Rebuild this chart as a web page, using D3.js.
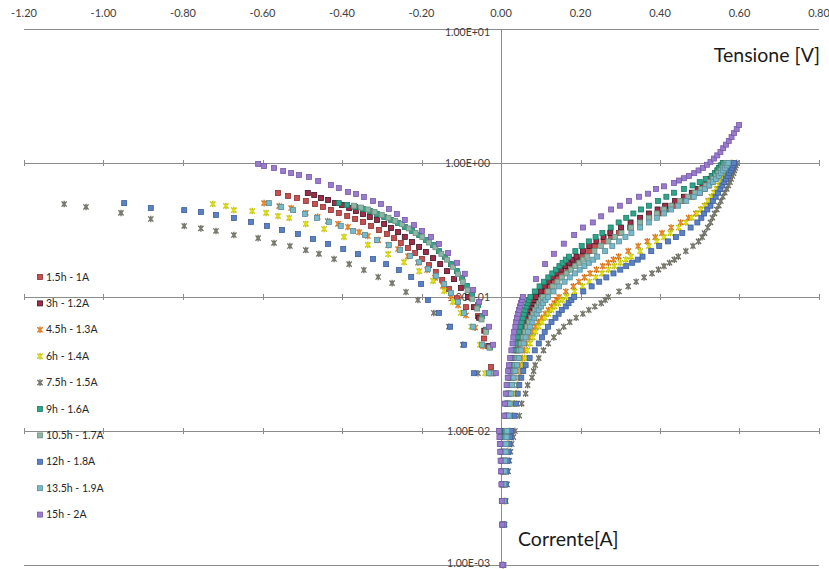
<!DOCTYPE html>
<html>
<head>
<meta charset="utf-8">
<script src="https://cdn.jsdelivr.net/npm/d3@7"></script>
<style>
  body { margin: 0; background: #fff; }
  text { font-family: Lato, "Liberation Sans", sans-serif; }
</style>
</head>
<body>
<svg id="chart" width="829" height="569"></svg>
<script>
// Axis ticks
const xTicks = [-1.2, -1.0, -0.8, -0.6, -0.4, -0.2, 0.0, 0.2, 0.4, 0.6, 0.8];
const yTicks = [10, 1, 0.1, 0.01, 0.001];
const yTickLabels = ["1.00E+01", "1.00E+00", "1.00E-01", "1.00E-02", "1.00E-03"];

// Series names (legend order)
const seriesNames = ["1.5h - 1A", "3h - 1.2A", "4.5h - 1.3A", "6h - 1.4A", "7.5h - 1.5A",
                     "9h - 1.6A", "10.5h - 1.7A", "12h - 1.8A", "13.5h - 1.9A", "15h - 2A"];

// Current steps of the positive branch (shared by the series)
const currentLow = [
  0.001, 0.002, 0.003, 0.004, 0.005, 0.006, 0.007, 0.008, 0.009, 0.010,
  0.013, 0.016, 0.019, 0.022, 0.025, 0.028,
  0.031, 0.035, 0.04, 0.045, 0.05, 0.055, 0.06, 0.065, 0.07, 0.075, 0.08, 0.085, 0.09, 0.095, 0.10
];
const currentHigh = [
  0.11, 0.12, 0.13, 0.14, 0.15, 0.16, 0.17, 0.18, 0.19, 0.20, 0.22, 0.24, 0.26, 0.28, 0.30,
  0.33, 0.36, 0.39, 0.42, 0.45, 0.48, 0.52, 0.56, 0.60, 0.64, 0.68, 0.72, 0.76, 0.80, 0.84,
  0.88, 0.92, 0.96, 1.00
];

// Positive branch voltages at currentLow
const low1_5h = [.005,.005,.005,.006,.006,.007,.008,.009,.010,.011, .016,.018,.020,.023,.027,.030,
  .033,.037,.042,.047,.051,.056,.061,.065,.069,.074,.079,.084,.089,.094,.098];
const low3h = [.004,.004,.004,.004,.004,.004,.004,.005,.005,.006, .014,.016,.018,.020,.024,.027,
  .030,.034,.039,.043,.047,.051,.055,.059,.063,.067,.071,.075,.079,.083,.088];
const low4_5h = [.005,.006,.008,.009,.011,.013,.015,.017,.018,.020, .028,.033,.038,.042,.045,.048,
  .051,.054,.059,.064,.071,.078,.086,.094,.102,.111,.119,.127,.134,.140,.146];
const low6h = [.005,.007,.009,.011,.013,.015,.017,.019,.021,.023, .030,.034,.038,.042,.047,.051,
  .055,.060,.066,.073,.080,.087,.095,.103,.111,.119,.127,.135,.144,.154,.165];
const low7_5h = [.006,.009,.012,.015,.018,.021,.024,.027,.031,.035, .046,.052,.062,.067,.078,.082,
  .086,.095,.107,.119,.133,.146,.158,.173,.189,.206,.221,.236,.252,.262,.270];
const low9h = [.004,.004,.003,.003,.002,.002,.001,.000,-.001,-.002, .012,.014,.016,.018,.021,.024,
  .026,.030,.034,.038,.042,.046,.049,.052,.055,.058,.061,.064,.067,.070,.074];
const low10_5h = [.005,.005,.006,.007,.008,.009,.010,.011,.012,.013, .018,.020,.023,.026,.030,.033,
  .036,.041,.046,.051,.056,.061,.066,.071,.076,.081,.086,.091,.096,.101,.106];
const low12h = [.006,.008,.010,.012,.014,.017,.019,.021,.023,.026, .034,.038,.042,.046,.051,.056,
  .062,.072,.085,.095,.103,.110,.118,.127,.137,.145,.153,.163,.170,.177,.184];
const low13_5h = [.005,.006,.007,.008,.009,.010,.012,.013,.014,.015, .020,.022,.025,.028,.032,.036,
  .040,.045,.051,.057,.062,.068,.073,.079,.084,.090,.095,.101,.106,.112,.118];
const low15h = [.004,.003,.002,.001,.000,-.001,-.002,-.003,-.004,-.005, .008,.010,.012,.014,.017,.018,
  .020,.023,.026,.029,.031,.033,.036,.038,.040,.043,.045,.048,.050,.053,.055];

// Positive branch voltages at currentHigh
const high1_5h = [.110,.122,.133,.144,.155,.167,.178,.187,.196,.205,.222,.236,.258,.277,.297,
  .325,.350,.373,.395,.415,.433,.458,.480,.500,.512,.522,.530,.538,.544,.549,.553,.557,.561,.566];
const high3h = [.100,.110,.120,.130,.140,.151,.162,.172,.180,.190,.206,.222,.240,.258,.275,
  .302,.326,.350,.372,.394,.413,.438,.460,.480,.495,.507,.517,.526,.533,.540,.546,.551,.556,.560];
const high4_5h = [.163,.182,.196,.210,.224,.240,.256,.270,.283,.296,.320,.345,.368,.388,.405,
  .428,.452,.472,.490,.503,.513,.522,.530,.538,.545,.550,.555,.560,.564,.568,.571,.574,.577,.579];
const high6h = [.185,.205,.222,.238,.254,.270,.285,.300,.314,.327,.350,.372,.392,.410,.426,
  .447,.465,.480,.493,.503,.512,.521,.529,.536,.542,.548,.553,.558,.563,.567,.571,.575,.579,.582];
const high7_5h = [.297,.320,.340,.360,.380,.396,.410,.424,.436,.446,.465,.483,.497,.506,.512,
  .520,.527,.532,.537,.543,.548,.553,.558,.563,.568,.572,.576,.579,.582,.585,.587,.589,.591,.593];
const high9h = [.085,.097,.108,.119,.129,.138,.147,.155,.163,.171,.187,.203,.221,.238,.255,
  .276,.296,.315,.333,.352,.372,.395,.416,.435,.460,.482,.500,.515,.530,.538,.544,.548,.553,.558];
const high10_5h = [.118,.130,.142,.153,.165,.176,.187,.197,.207,.217,.235,.252,.270,.287,.303,
  .327,.350,.372,.392,.410,.428,.450,.470,.488,.503,.515,.525,.533,.541,.547,.553,.558,.563,.567];
const high12h = [.207,.228,.247,.265,.283,.300,.315,.330,.344,.356,.378,.398,.420,.440,.456,
  .477,.494,.504,.511,.519,.527,.533,.540,.546,.552,.557,.562,.566,.570,.574,.578,.581,.584,.586];
const high13_5h = [.132,.146,.160,.173,.186,.198,.210,.221,.232,.242,.262,.280,.297,.313,.328,
  .350,.372,.392,.410,.428,.445,.466,.485,.500,.513,.524,.533,.541,.548,.554,.559,.564,.568,.572];

// The 15h series above 0.1 A: [voltage, current]
const high15h = [[.088,.136],[.111,.176],[.133,.21],[.158,.25],[.184,.29],[.206,.33],[.231,.36],
  [.252,.40],[.277,.45],[.299,.48],[.322,.52],[.347,.56],[.370,.59],[.390,.64],[.410,.67],[.435,.71],
  [.448,.74],[.460,.77],[.473,.80],[.486,.84],[.497,.88],[.508,.92],[.518,.97],[.527,1.02],[.536,1.08],
  [.544,1.14],[.552,1.21],[.559,1.29],[.566,1.37],[.573,1.46],[.580,1.56],[.586,1.67],[.593,1.79],[.599,1.92]];

// Negative branch: [voltage, current]
const left1_5h = [[-0.561,.597],[-0.536,.567],[-0.513,.548],[-0.491,.520],[-0.468,.494],[-0.448,.470],[-0.428,.446],
  [-0.408,.424],[-0.387,.402],[-0.367,.382],[-0.347,.363],[-0.327,.339],[-0.307,.316],[-0.287,.295],[-0.269,.275],
  [-0.252,.253],[-0.234,.232],[-0.216,.213],[-0.199,.192],[-0.181,.173],[-0.164,.154],[-0.148,.134],[-0.131,.115],
  [-0.111,.098],[-0.088,.084],[-0.058,.072],[-0.043,.049],[-0.025,.030]];
const left3h = [[-0.486,.597],[-0.470,.577],[-0.453,.548],[-0.435,.530],[-0.418,.502],[-0.400,.486],[-0.382,.461],
  [-0.365,.438],[-0.347,.416],[-0.330,.395],[-0.312,.376],[-0.294,.351],[-0.277,.327],[-0.259,.305],[-0.242,.281],
  [-0.224,.257],[-0.206,.236],[-0.189,.217],[-0.171,.195],[-0.153,.176],[-0.136,.156],[-0.118,.136],[-0.101,.117],
  [-0.083,.100],[-0.068,.084],[-0.055,.070],[-0.042,.056],[-0.032,.043],[-0.022,.027]];
const left4_5h = [[-0.596,.502],[-0.558,.477],[-0.528,.461],[-0.491,.424],[-0.461,.396],[-0.436,.369],[-0.410,.351],
  [-0.385,.333],[-0.357,.305],[-0.335,.285],[-0.309,.266],[-0.284,.244],[-0.259,.228],[-0.234,.202],[-0.209,.180],
  [-0.186,.159],[-0.166,.139],[-0.146,.121],[-0.126,.102],[-0.108,.087],[-0.088,.073],[-0.065,.059],[-0.045,.043],
  [-0.030,.027]];
const left6h = [[-0.725,.494],[-0.692,.478],[-0.672,.445],[-0.626,.438],[-0.591,.424],[-0.561,.402],[-0.533,.389],
  [-0.491,.351],[-0.445,.322],[-0.395,.281],[-0.335,.245],[-0.284,.209],[-0.244,.182],[-0.206,.156],[-0.171,.132],
  [-0.143,.111],[-0.121,.092],[-0.101,.076],[-0.075,.060],[-0.053,.044],[-0.040,.027]];
const left7_5h = [[-1.099,.494],[-1.044,.470],[-0.956,.424],[-0.881,.382],[-0.797,.339],[-0.755,.325],[-0.717,.311],
  [-0.672,.290],[-0.611,.275],[-0.571,.253],[-0.531,.240],[-0.491,.224],[-0.458,.210],[-0.420,.192],[-0.382,.176],
  [-0.345,.159],[-0.309,.141],[-0.274,.127],[-0.239,.109],[-0.209,.095],[-0.169,.076],[-0.131,.060],[-0.096,.044],
  [-0.058,.027]];
const left9h = [[-0.408,.502],[-0.387,.486],[-0.367,.470],[-0.347,.454],[-0.330,.438],[-0.312,.416],[-0.294,.395],
  [-0.277,.376],[-0.259,.357],[-0.242,.333],[-0.224,.311],[-0.206,.290],[-0.189,.266],[-0.171,.244],[-0.156,.220],
  [-0.141,.199],[-0.126,.176],[-0.111,.156],[-0.098,.139],[-0.086,.121],[-0.073,.104],[-0.058,.087],[-0.048,.072],
  [-0.038,.057],[-0.028,.042],[-0.020,.027]];
const left10_5h = [[-0.370,.480],[-0.352,.465],[-0.335,.450],[-0.318,.430],[-0.300,.410],[-0.283,.390],[-0.266,.370],
  [-0.249,.350],[-0.232,.325],[-0.215,.300],[-0.198,.280],[-0.181,.255],[-0.165,.235],[-0.150,.210],[-0.136,.190],
  [-0.121,.168],[-0.108,.148],[-0.096,.130],[-0.084,.113],[-0.072,.097],[-0.060,.082],[-0.049,.068],[-0.038,.055],
  [-0.029,.042],[-0.022,.027]];
const left12h = [[-0.948,.502],[-0.881,.461],[-0.797,.445],[-0.755,.431],[-0.717,.409],[-0.672,.389],[-0.629,.363],
  [-0.589,.339],[-0.551,.316],[-0.511,.295],[-0.473,.271],[-0.435,.249],[-0.397,.228],[-0.360,.209],[-0.322,.192],
  [-0.289,.176],[-0.257,.159],[-0.226,.141],[-0.201,.125],[-0.184,.095],[-0.156,.076],[-0.128,.060],[-0.093,.044],
  [-0.068,.027]];
const left13_5h = [[-0.584,.502],[-0.553,.469],[-0.523,.445],[-0.493,.416],[-0.463,.389],[-0.433,.363],[-0.403,.339],
  [-0.372,.311],[-0.342,.290],[-0.312,.266],[-0.282,.244],[-0.254,.224],[-0.229,.202],[-0.206,.182],[-0.184,.162],
  [-0.164,.144],[-0.143,.125],[-0.126,.107],[-0.108,.092],[-0.093,.076],[-0.070,.060],[-0.048,.044],[-0.030,.027]];
const left15h = [[-0.611,.984],[-0.596,.950],[-0.571,.918],[-0.548,.871],[-0.528,.841],[-0.508,.813],[-0.483,.787],
  [-0.460,.734],[-0.428,.686],[-0.408,.650],[-0.385,.608],[-0.365,.587],[-0.345,.557],[-0.322,.520],[-0.302,.494],
  [-0.282,.454],[-0.262,.416],[-0.242,.376],[-0.219,.344],[-0.199,.311],[-0.176,.281],[-0.156,.249],[-0.133,.213],
  [-0.111,.180],[-0.091,.149],[-0.070,.113],[-0.055,.092],[-0.040,.076],[-0.030,.060],[-0.020,.044],[-0.013,.027]];

const lowSets = [low1_5h, low3h, low4_5h, low6h, low7_5h, low9h, low10_5h, low12h, low13_5h, low15h];
const highSets = [high1_5h, high3h, high4_5h, high6h, high7_5h, high9h, high10_5h, high12h, high13_5h, null];
const leftSets = [left1_5h, left3h, left4_5h, left6h, left7_5h, left9h, left10_5h, left12h, left13_5h, left15h];

// Marker styles
const markerFill = ["#c8504f", "#a02c48", "#f08a24", "#e2e20a", "#7b7b70", "#2ea68b", "#8fb5a6", "#5b80c4", "#76b9cb", "#9a7ccc"];
const markerStroke = ["#8a3030", "#3e1420", "#d06a10", "#b8b800", "#6a6a60", "#1d7a65", "#6b8f80", "#3d5f9c", "#5b8d9a", "#7658aa"];
const markerShape = ["square", "square", "star", "star", "star", "square", "square", "square", "square", "square"];

// Build the point list for every series
const series = seriesNames.map((name, i) => {
  const pts = leftSets[i].map(d => ({ v: d[0], c: d[1] }));
  lowSets[i].forEach((v, k) => pts.push({ v: v, c: currentLow[k] }));
  if (highSets[i]) highSets[i].forEach((v, k) => pts.push({ v: v, c: currentHigh[k] }));
  else high15h.forEach(d => pts.push({ v: d[0], c: d[1] }));
  return { name, i, pts };
});

const svg = d3.select("#chart");

const x = d3.scaleLinear().domain([-1.2, 0.8]).range([24, 819]);
const y = d3.scaleLog().domain([0.001, 10]).range([565, 29]);

// Horizontal gridlines at each decade
svg.append("g").selectAll("line")
  .data(yTicks)
  .join("line")
    .attr("x1", x(-1.2)).attr("x2", x(0.8))
    .attr("y1", d => Math.round(y(d)) + 0.5)
    .attr("y2", d => Math.round(y(d)) + 0.5)
    .attr("stroke", "#8c8c8c")
    .attr("stroke-width", 1);

// small tick marks on the gridlines
const tickPairs = [];
yTicks.slice(1, 4).forEach(t => xTicks.forEach(v => tickPairs.push([v, t])));
svg.append("g").selectAll("line")
  .data(tickPairs)
  .join("line")
    .attr("x1", d => Math.round(x(d[0])) + 0.5)
    .attr("x2", d => Math.round(x(d[0])) + 0.5)
    .attr("y1", d => Math.round(y(d[1])) - 3)
    .attr("y2", d => Math.round(y(d[1])) + 3)
    .attr("stroke", "#8c8c8c");

// Vertical axis at 0
svg.append("line")
  .attr("x1", Math.round(x(0)) + 0.5).attr("x2", Math.round(x(0)) + 0.5)
  .attr("y1", y(10)).attr("y2", y(0.001))
  .attr("stroke", "#8c8c8c");

// X tick labels along the top
svg.append("g").selectAll("text")
  .data(xTicks)
  .join("text")
    .attr("x", d => x(d))
    .attr("y", 17)
    .attr("text-anchor", "middle")
    .attr("font-size", 11)
    .attr("fill", "#404040")
    .text(d => d3.format(".2f")(d).replace("−", "-"));

// Y tick labels next to the axis
svg.append("g").selectAll("text")
  .data(yTicks)
  .join("text")
    .attr("x", x(0) - 11)
    .attr("y", (d, i) => i === 0 ? y(d) + 7 : (i === 4 ? y(d) + 2 : y(d) + 4))
    .attr("text-anchor", "end")
    .attr("font-size", 10.5)
    .attr("fill", "#404040")
    .text((d, i) => yTickLabels[i]);

// Marker helpers
const starPath = "M-2.6,-2.6L2.6,2.6M-2.6,2.6L2.6,-2.6M0,-3.3L0,3.3";
function drawMarker(sel, i) {
  if (markerShape[i] === "star") {
    sel.append("path")
      .attr("d", starPath)
      .attr("fill", "none")
      .attr("stroke", markerStroke[i])
      .attr("stroke-width", 1.3);
    sel.append("path")
      .attr("d", "M-1.5,-1.5L1.5,1.5M-1.5,1.5L1.5,-1.5")
      .attr("stroke", markerFill[i])
      .attr("stroke-width", 1.6);
  } else {
    sel.append("rect")
      .attr("x", -2.5).attr("y", -2.5)
      .attr("width", 5).attr("height", 5)
      .attr("fill", markerFill[i])
      .attr("stroke", markerStroke[i])
      .attr("stroke-width", 0.8);
  }
}

// Data points
const plot = svg.append("g");
series.forEach(s => {
  plot.append("g").selectAll("g")
    .data(s.pts)
    .join("g")
      .attr("transform", d => `translate(${x(d.v)},${y(d.c)})`)
      .each(function() { drawMarker(d3.select(this), s.i); });
});

// Legend
const legend = svg.append("g");
seriesNames.forEach((name, i) => {
  const row = legend.append("g").attr("transform", `translate(40,${277 + i * 26.4})`);
  drawMarker(row.append("g"), i);
  row.append("text")
    .attr("x", 6).attr("y", 3.5)
    .attr("font-size", 10.5)
    .attr("fill", "#262626")
    .text(name);
});

// Axis titles
svg.append("text")
  .attr("x", 820).attr("y", 62)
  .attr("text-anchor", "end")
  .attr("font-size", 19.5)
  .attr("fill", "#1a1a1a")
  .text("Tensione [V]");

svg.append("text")
  .attr("x", 518).attr("y", 546)
  .attr("font-size", 19.5)
  .attr("fill", "#1a1a1a")
  .text("Corrente[A]");
</script>
</body>
</html>
